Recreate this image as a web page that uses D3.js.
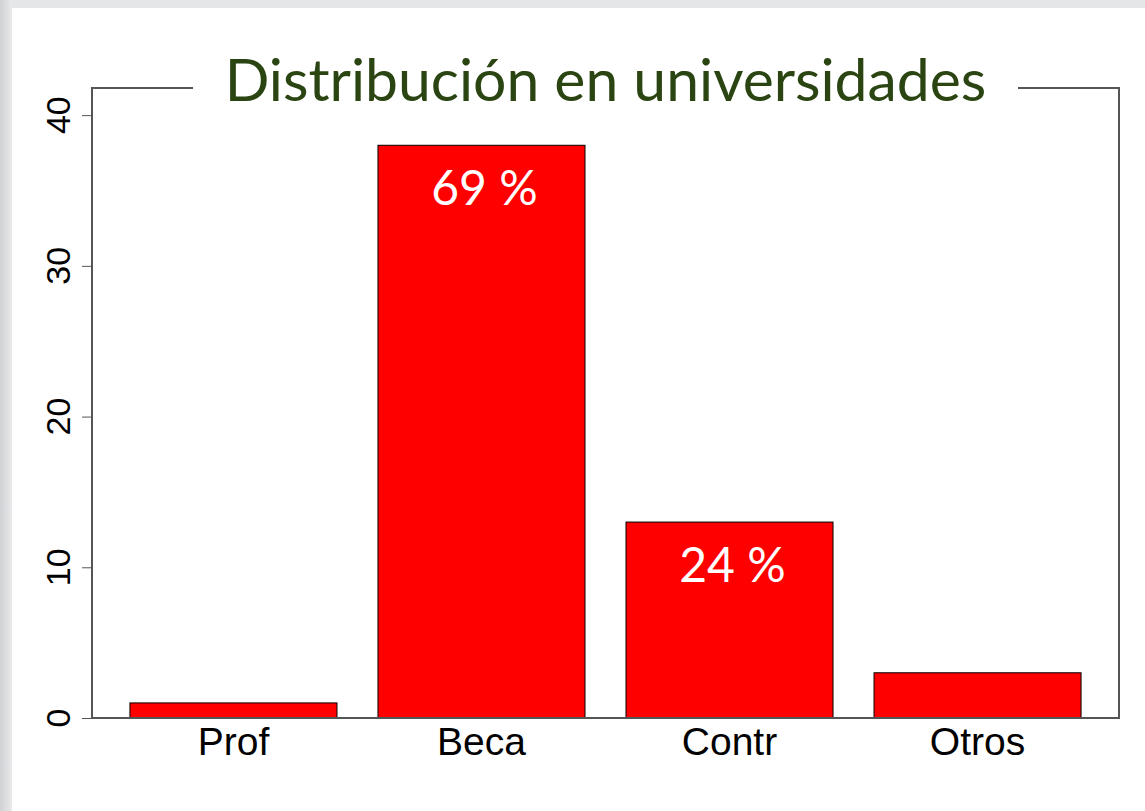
<!DOCTYPE html>
<html>
<head>
<meta charset="utf-8">
<script src="https://cdn.jsdelivr.net/npm/d3@7"></script>
<style>
  html, body { margin: 0; padding: 0; background: #dfe0e3; }
  svg { display: block; }
</style>
</head>
<body>
<div id="chart"></div>
<script>
// data
var categories = ["Prof", "Beca", "Contr", "Otros"];
var counts = [1, 38, 13, 3];
var pctLabels = ["", "69 %", "24 %", ""];
var yTicks = [0, 10, 20, 30, 40];
var titleText = "Distribución en universidades";

var svgW = 1145;
var svgH = 811;

var margin = { top: 88, right: 26, bottom: 93, left: 92 };
var plotR = svgW - margin.right;
var plotB = svgH - margin.bottom;

var svg = d3.select("#chart")
    .append("svg")
    .attr("width", svgW)
    .attr("height", svgH);

// slide background with soft grey edge on the left/top
var defs = svg.append("defs");
var grad = defs.append("linearGradient").attr("id", "edgeL").attr("x1", 0).attr("x2", 1);
grad.append("stop").attr("offset", 0).attr("stop-color", "#d0d1d4");
grad.append("stop").attr("offset", 1).attr("stop-color", "#e8e9eb");

svg.append("rect").attr("width", svgW).attr("height", svgH).attr("fill", "#e5e6e8");
svg.append("rect").attr("width", 12).attr("height", svgH).attr("fill", "url(#edgeL)");
svg.append("rect")
    .attr("x", 12).attr("y", 8)
    .attr("width", svgW - 12).attr("height", svgH - 8)
    .attr("fill", "#ffffff");

var xScale = d3.scaleBand()
    .domain(categories)
    .range([margin.left, plotR])
    .paddingInner(0.1653)
    .paddingOuter(0.153);

var yScale = d3.scaleLinear()
    .domain([0, 41.8])
    .range([plotB, margin.top]);

// bars
svg.append("g")
    .selectAll("rect")
    .data(counts)
    .enter()
    .append("rect")
    .attr("x", function(d, i) { return xScale(categories[i]) })
    .attr("y", function(d) { return yScale(d) })
    .attr("width", xScale.bandwidth())
    .attr("height", function(d) { return yScale(0) - yScale(d) })
    .attr("fill", "#ff0000")
    .attr("stroke", "#000")
    .attr("stroke-width", 1);

// percent labels inside bars
svg.append("g")
    .selectAll("text")
    .data(counts)
    .enter()
    .append("text")
    .attr("x", function(d, i) { return xScale(categories[i]) + xScale.bandwidth() / 2 + 3 })
    .attr("y", function(d) { return yScale(d) + 60 })
    .attr("text-anchor", "middle")
    .attr("font-family", "Lato, 'Open Sans', sans-serif")
    .attr("font-size", 48)
    .attr("fill", "#ffffff")
    .text(function(d, i) { return pctLabels[i] });

// y axis ticks
var lAxis = d3.axisLeft(yScale)
    .tickValues(yTicks)
    .tickSize(10)
    .tickPadding(0)
    .tickFormat(d3.format("d"));

var yAxis = svg.append("g")
    .attr("transform", `translate(${margin.left}, 0)`)
    .call(lAxis);
yAxis.select(".domain").remove();
yAxis.selectAll(".tick line").attr("stroke", "#555");
yAxis.selectAll(".tick text").remove();

svg.append("g")
    .selectAll("text")
    .data(yTicks)
    .enter()
    .append("text")
    .attr("transform", function(d) { return `translate(70, ${yScale(d)}) rotate(-90)` })
    .attr("text-anchor", "middle")
    .attr("font-family", "'Liberation Sans', Arial, sans-serif")
    .attr("font-size", 34)
    .attr("fill", "#000")
    .text(function(d) { return d });

// category labels
svg.append("g")
    .selectAll("text")
    .data(categories)
    .enter()
    .append("text")
    .attr("x", function(d) { return xScale(d) + xScale.bandwidth() / 2 })
    .attr("y", plotB + 37)
    .attr("text-anchor", "middle")
    .attr("font-family", "'Liberation Sans', Arial, sans-serif")
    .attr("font-size", 39)
    .attr("fill", "#000")
    .text(function(d) { return d });

// title, sized to the slide's width
var midX = (margin.left + plotR) / 2;
var title = svg.append("text")
    .attr("x", midX)
    .attr("y", 101)
    .attr("text-anchor", "middle")
    .attr("font-family", "Lato, 'Open Sans', sans-serif")
    .attr("font-size", 60)
    .attr("fill", "#2a4412")
    .text(titleText);

var tw = title.node().getComputedTextLength();
title.attr("font-size", 60 * 762 / tw);
tw = title.node().getComputedTextLength();

// box with a gap for the title
var gapL = midX - tw / 2 - 32;
var gapR = midX + tw / 2 + 32;
var boxG = svg.append("g")
    .attr("stroke", "#555")
    .attr("stroke-width", 1.2)
    .attr("fill", "none");

boxG.append("path")
    .attr("d", `M${gapL},${margin.top} H${margin.left} V${plotB} H${plotR} V${margin.top} H${gapR}`)
    .attr("shape-rendering", "crispEdges");
</script>
</body>
</html>
